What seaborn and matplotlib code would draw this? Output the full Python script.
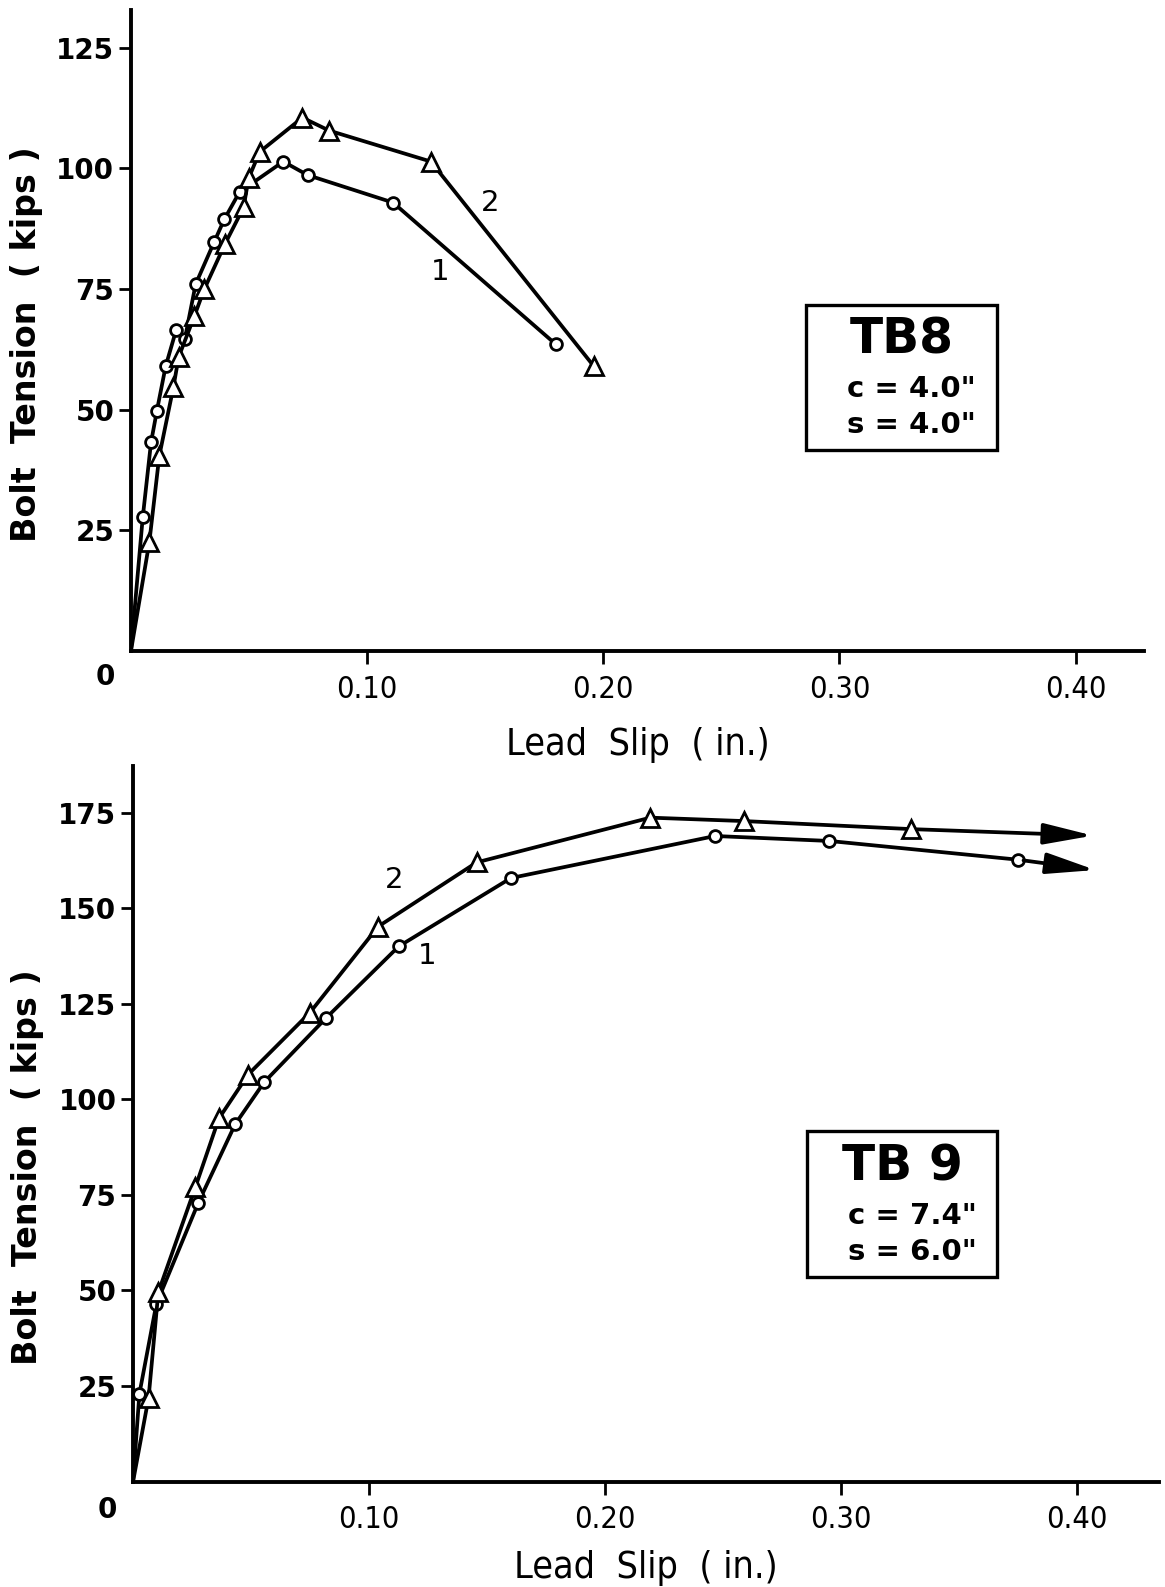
import matplotlib
matplotlib.use("Agg")
import matplotlib.pyplot as plt
import seaborn as sns
from matplotlib.patches import Rectangle

# TB8 - curve 1 (circles) and curve 2 (triangles)
slip_tb8_1 = [0, 0.005, 0.0085, 0.011, 0.0147, 0.0192, 0.0228, 0.0274, 0.0353, 0.0395, 0.046, 0.0645, 0.0748, 0.111, 0.180]
load_tb8_1 = [0, 27.7, 43.2, 49.8, 59.0, 66.6, 64.6, 76.0, 84.8, 89.4, 95.1, 101.4, 98.6, 92.9, 63.5]
slip_tb8_2 = [0, 0.0078, 0.012, 0.018, 0.0202, 0.0268, 0.031, 0.0399, 0.0477, 0.0498, 0.0545, 0.0726, 0.084, 0.127, 0.196]
load_tb8_2 = [0, 22.6, 40.4, 54.7, 60.9, 69.3, 74.9, 84.4, 91.9, 97.9, 103.4, 110.5, 107.8, 101.4, 59.0]

# TB9 - curves continue past the last reading (arrow tips)
slip_tb9_1 = [0, 0.0027, 0.0099, 0.0277, 0.0433, 0.0556, 0.0817, 0.1126, 0.1602, 0.2468, 0.2952, 0.3752]
load_tb9_1 = [0, 23.0, 46.5, 73.0, 93.5, 104.5, 121.2, 140.0, 157.9, 168.9, 167.6, 162.7]
slip_tb9_2 = [0, 0.0066, 0.0107, 0.0264, 0.0364, 0.0488, 0.075, 0.1039, 0.1457, 0.2193, 0.2592, 0.3299]
load_tb9_2 = [0, 22.0, 49.5, 77.0, 95.0, 106.5, 122.7, 145.2, 162.0, 173.7, 172.8, 170.7]
arrow_tb9_1 = (0.408, 160.0)
arrow_tb9_2 = (0.407, 169.0)

x_ticks = [0.10, 0.20, 0.30, 0.40]
x_tick_labels = ["0.10", "0.20", "0.30", "0.40"]
y_ticks_tb8 = [25, 50, 75, 100, 125]
y_ticks_tb9 = [25, 50, 75, 100, 125, 150, 175]

sns.set_style("ticks")
plt.rcParams["font.family"] = ["DejaVu Sans"]
plt.rcParams.update({
    "text.color": "black",
    "axes.labelcolor": "black",
    "axes.edgecolor": "black",
    "xtick.color": "black",
    "ytick.color": "black",
})

fig = plt.figure(figsize=(11.65, 15.87), dpi=100)
ax1 = fig.add_axes([0.1124, 0.5898, 0.8696, 0.4039])
ax2 = fig.add_axes([0.1142, 0.0664, 0.8807, 0.4509])

LW = 2.7


def draw_curve(ax, x, y, marker, ms):
    sns.lineplot(x=x, y=y, ax=ax, sort=False, estimator=None, color="black",
                 linewidth=LW, marker=marker, markersize=ms,
                 markerfacecolor="white", markeredgecolor="black",
                 markeredgewidth=2.0, markevery=list(range(1, len(x))))


def style_axes(ax, xmax, ymax, yticks, ylabel_y, xlabel_pad):
    ax.set_xlim(0, xmax)
    ax.set_ylim(0, ymax)
    ax.set_xticks(x_ticks)
    ax.set_xticklabels(x_tick_labels, fontsize=22, fontstretch="condensed")
    ax.set_yticks(yticks)
    ax.set_yticklabels([str(v) for v in yticks], fontsize=20, fontweight="bold")
    for side in ("top", "right"):
        ax.spines[side].set_visible(False)
    for side in ("left", "bottom"):
        ax.spines[side].set_linewidth(2.8)
    ax.tick_params(axis="x", length=9, width=2.0, pad=8)
    ax.tick_params(axis="y", length=9, width=2.0, pad=3)
    ax.set_xlabel("Lead  Slip  ( in.)", fontsize=27, fontstretch="condensed", labelpad=xlabel_pad)
    ax.set_ylabel("Bolt  Tension  ( kips )", fontsize=24, fontweight="bold")
    ax.yaxis.set_label_coords(-0.087, ylabel_y)
    ax.text(-0.025, -0.04, "0", transform=ax.transAxes, fontsize=20,
            fontweight="bold", ha="center", va="center")


def info_box(ax, x0, y0, x1, y1, title, lines):
    ax.add_patch(Rectangle((x0, y0), x1 - x0, y1 - y0, transform=ax.transAxes,
                           fill=False, edgecolor="black", linewidth=2.4, clip_on=False))
    xc = (x0 + x1) / 2
    h = y1 - y0
    ax.text(xc, y1 - h * 0.24, title, transform=ax.transAxes, fontsize=35,
            fontweight="bold", ha="center", va="center")
    ax.text(xc + 0.01, y1 - h * 0.58, lines[0], transform=ax.transAxes, fontsize=21,
            fontweight="bold", ha="center", va="center")
    ax.text(xc + 0.01, y1 - h * 0.83, lines[1], transform=ax.transAxes, fontsize=21,
            fontweight="bold", ha="center", va="center")


# --- TB8 ---
draw_curve(ax1, slip_tb8_1, load_tb8_1, "o", 8.5)
draw_curve(ax1, slip_tb8_2, load_tb8_2, "^", 13.5)
style_axes(ax1, 0.429, 132.8, y_ticks_tb8, 0.479, 17)
ax1.text(0.152, 92.9, "2", fontsize=21, ha="center", va="center")
ax1.text(0.131, 78.6, "1", fontsize=21, ha="center", va="center")
info_box(ax1, 0.666, 0.3136, 0.855, 0.540, "TB8", ['c = 4.0"', 's = 4.0"'])

# --- TB9 ---
draw_curve(ax2, slip_tb9_1, load_tb9_1, "o", 8.5)
draw_curve(ax2, slip_tb9_2, load_tb9_2, "^", 13.5)
for xs, ys, tip in ((slip_tb9_1, load_tb9_1, arrow_tb9_1), (slip_tb9_2, load_tb9_2, arrow_tb9_2)):
    ax2.annotate("", xy=tip, xytext=(xs[-1], ys[-1]),
                 arrowprops=dict(arrowstyle="-|>,head_length=1.5,head_width=0.32",
                                 color="black", lw=LW, mutation_scale=20,
                                 shrinkA=4, shrinkB=0))
style_axes(ax2, 0.435, 187.2, y_ticks_tb9, 0.44, 11)
ax2.text(0.1105, 157.3, "2", fontsize=21, ha="center", va="center")
ax2.text(0.1245, 137.4, "1", fontsize=21, ha="center", va="center")
info_box(ax2, 0.657, 0.286, 0.842, 0.490, "TB 9", ['c = 7.4"', 's = 6.0"'])

fig.savefig("out.png", dpi=100)
